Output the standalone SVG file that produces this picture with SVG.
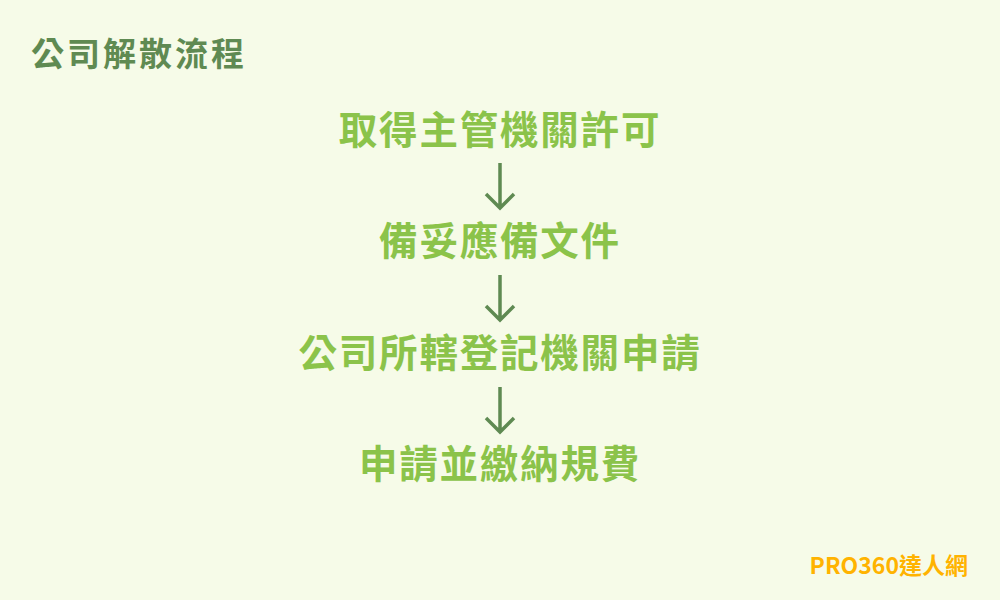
<svg xmlns="http://www.w3.org/2000/svg" width="1000" height="600" viewBox="0 0 1000 600">
<style>
.t{font-family:"Noto Sans CJK TC","Noto Sans CJK SC",sans-serif;font-weight:bold}
.title{font-size:33px;fill:#5f8a52;letter-spacing:3px}
.step{font-size:38.5px;fill:#8bc34a;letter-spacing:1.8px;text-anchor:middle}
.brand{font-size:23px;fill:#ffb300;text-anchor:end}
.arr{stroke:#5f8a52;stroke-width:3.5;fill:none}
</style>
<rect width="1000" height="600" fill="#f6fbe8"/>
<text class="t title" x="31" y="66">公司解散流程</text>
<g id="n1"><text class="t step" x="500" y="144">取得主管機關許可</text></g>
<g id="n2"><text class="t step" x="500" y="255">備妥應備文件</text></g>
<g id="n3"><text class="t step" x="500" y="367">公司所轄登記機關申請</text></g>
<g id="n4"><text class="t step" x="500" y="478">申請並繳納規費</text></g>
<g id="connectors">
<path class="arr" d="M500 163V208M486 194L500 208L514 194"/>
<path class="arr" d="M500 275V320M486 306L500 320L514 306"/>
<path class="arr" d="M500 387V432M486 418L500 432L514 418"/>
</g>
<text class="t brand" x="968" y="574">PRO360達人網</text>
</svg>
